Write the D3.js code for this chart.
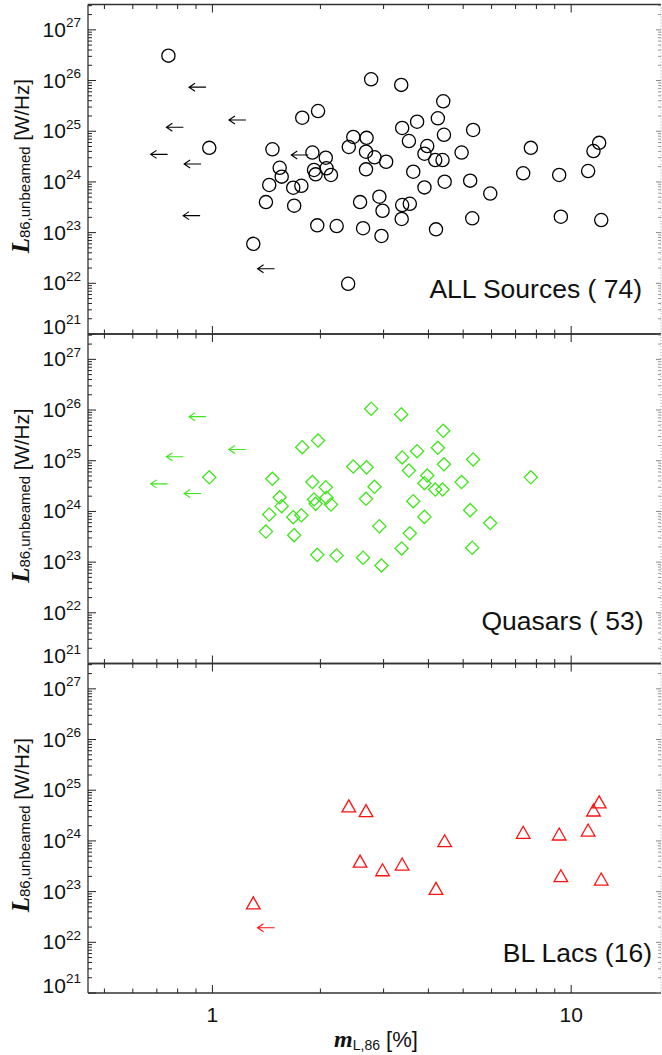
<!DOCTYPE html>
<html>
<head>
<meta charset="utf-8">
<script src="https://cdn.jsdelivr.net/npm/d3@7"></script>
<style>
	body { margin: 0; background: #fff; }
	svg { display: block; }
	text { font-family: "Liberation Sans", Arial, sans-serif; fill: #111; }
</style>
</head>
<body>
<div id="vis"></div>
<script>

// [m_L,86 in %, L_86,unbeamed in W/Hz]
var quasarDet = [
	[0.98, 4.7e24], [1.47, 4.4e24], [1.54, 1.9e24], [1.56, 1.27e24], [1.44, 8.7e23],
	[1.41, 4.0e23], [1.68, 7.7e23], [1.77, 8.4e23], [1.69, 3.4e23], [1.78, 1.85e25],
	[1.97, 2.5e25], [1.90, 3.8e24], [1.92, 1.72e24], [1.94, 1.41e24], [1.96, 1.39e23],
	[2.07, 3.0e24], [2.08, 1.86e24], [2.14, 1.37e24], [2.77, 1.06e26], [3.36, 8.2e25],
	[4.40, 3.9e25], [4.25, 1.8e25], [3.72, 1.54e25], [3.38, 1.16e25], [5.33, 1.06e25],
	[4.42, 8.5e24], [2.47, 7.7e24], [2.69, 7.4e24], [3.53, 6.4e24], [3.97, 5.1e24],
	[7.72, 4.7e24], [4.95, 3.8e24], [3.90, 3.6e24], [2.83, 3.06e24], [4.18, 2.7e24],
	[4.38, 2.7e24], [2.68, 1.77e24], [3.63, 1.59e24], [5.23, 1.06e24], [3.90, 7.8e23],
	[5.95, 5.9e23], [2.92, 5.1e23], [3.55, 3.7e23], [3.37, 1.86e23], [5.30, 1.92e23],
	[2.22, 1.35e23], [2.63, 1.22e23], [2.96, 8.6e22]
];
var quasarLim = [
	[0.96, 7.4e25], [0.83, 1.2e25], [1.24, 1.67e25], [0.75, 3.5e24], [0.93, 2.26e24]
];
var blLacDet = [
	[1.30, 6.0e22], [2.40, 4.9e24], [2.68, 3.95e24], [2.58, 4.0e23], [2.98, 2.7e23],
	[3.38, 3.5e23], [4.20, 1.16e23], [4.44, 1.01e24], [7.35, 1.48e24], [9.26, 1.37e24],
	[9.36, 2.06e23], [11.15, 1.64e24], [11.54, 4.07e24], [11.97, 5.9e24], [12.13, 1.77e23]
];
var blLacLim = [
	[1.49, 1.94e22]
];
var otherDet = [
	[0.754, 3.1e26], [2.39, 9.8e21], [3.05, 2.5e24]
];
var otherLim = [
	[1.85, 3.4e24], [0.924, 2.16e23]
];

var panelLabels = ["ALL Sources ( 74)", "Quasars ( 53)", "BL Lacs (16)"];
var yTickExps = [21, 22, 23, 24, 25, 26, 27];
var xMajorTicks = [1, 10];
var xTickLabels = ["1", "10"];

var width = 662, height = 1055;
var left = 88, right = 661;
var panelTops = [4.5, 334, 663.5];
var panelH = 329.5;

var svg = d3.select("#vis").append("svg")
	.attr("width", width)
	.attr("height", height);

var xScale = d3.scaleLog()
	.domain([0.45, 17.8])
	.range([left, right]);

var xMinor = [];
[0.1, 1].forEach(function(base) {
	for (var k = 2; k <= 9; k++) {
		var v = base * k;
		if (v > 0.45 && v < 17.8 && v != 1) xMinor.push(v);
	}
});
xMinor.push(20);
xMinor = xMinor.filter(function(v) { return v < 17.8; });

var yMinor = [];
yTickExps.forEach(function(e) {
	for (var k = 2; k <= 9; k++) {
		var v = k * Math.pow(10, e);
		if (v < Math.pow(10, 27.5)) yMinor.push(v);
	}
});

var triangle = {
	draw: function(ctx) {
		var w = 6.8, h = 6;
		ctx.moveTo(0, -h);
		ctx.lineTo(w, h);
		ctx.lineTo(-w, h);
		ctx.closePath();
	}
};
var diamond = {
	draw: function(ctx) {
		var r = 6.6;
		ctx.moveTo(0, -r);
		ctx.lineTo(r, 0);
		ctx.lineTo(0, r);
		ctx.lineTo(-r, 0);
		ctx.closePath();
	}
};

var panels = [
	{ det: quasarDet.concat(blLacDet, otherDet), lim: quasarLim.concat(blLacLim, otherLim),
		color: "#000", symbol: d3.symbol().type(d3.symbolCircle).size(Math.PI * 6.6 * 6.6),
		label: panelLabels[0], labelX: 642, labelY: 297.5 },
	{ det: quasarDet, lim: quasarLim,
		color: "#3ee61a", symbol: d3.symbol().type(diamond),
		label: panelLabels[1], labelX: 643.5, labelY: 629.5 },
	{ det: blLacDet, lim: blLacLim,
		color: "#ff1010", symbol: d3.symbol().type(triangle),
		label: panelLabels[2], labelX: 652, labelY: 962 }
];

panels.forEach(function(p, i) {

	var top = panelTops[i], bottom = top + panelH;

	var yScale = d3.scaleLog()
		.domain([1e21, Math.pow(10, 27.5)])
		.range([bottom, top]);

	var g = svg.append("g").attr("class", "panel");

	// frame
	g.append("line").attr("x1", left).attr("x2", right).attr("y1", top).attr("y2", top)
		.attr("stroke", "#333").attr("stroke-width", 1.3);
	g.append("line").attr("x1", left).attr("x2", right).attr("y1", bottom).attr("y2", bottom)
		.attr("stroke", "#333").attr("stroke-width", 1.3);
	g.append("line").attr("x1", left).attr("x2", left).attr("y1", top).attr("y2", bottom)
		.attr("stroke", "#333").attr("stroke-width", 1.3);
	g.append("line").attr("x1", right).attr("x2", right).attr("y1", top).attr("y2", bottom)
		.attr("stroke", "#aaa").attr("stroke-width", 1).attr("stroke-dasharray", "1,2");

	// x ticks, top and bottom, pointing in
	var xt = xMajorTicks.map(function(v) { return { v: v, len: 8 }; })
		.concat(xMinor.map(function(v) { return { v: v, len: 4.5 }; }));
	xt.forEach(function(t) {
		var x = xScale(t.v);
		g.append("line").attr("x1", x).attr("x2", x).attr("y1", bottom).attr("y2", bottom - t.len)
			.attr("stroke", "#222").attr("stroke-width", 1);
		g.append("line").attr("x1", x).attr("x2", x).attr("y1", top).attr("y2", top + t.len)
			.attr("stroke", "#222").attr("stroke-width", 1);
	});

	// y ticks
	yTickExps.forEach(function(e) {
		var y = yScale(Math.pow(10, e));
		g.append("line").attr("x1", left).attr("x2", left + 8).attr("y1", y).attr("y2", y)
			.attr("stroke", "#222").attr("stroke-width", 1);
		g.append("line").attr("x1", right).attr("x2", right - 5).attr("y1", y).attr("y2", y)
			.attr("stroke", "#888").attr("stroke-width", 1);

		var lab = g.append("text")
			.attr("x", 81)
			.attr("y", e == 21 ? y - 0.5 : y + 7)
			.attr("text-anchor", "end")
			.style("font-size", "21px");
		lab.append("tspan").text("10");
		lab.append("tspan").attr("dy", -9.5).style("font-size", "13.5px").text(e);
	});
	yMinor.forEach(function(v) {
		var y = yScale(v);
		g.append("line").attr("x1", left).attr("x2", left + 4).attr("y1", y).attr("y2", y)
			.attr("stroke", "#222").attr("stroke-width", 1);
		g.append("line").attr("x1", right).attr("x2", right - 3).attr("y1", y).attr("y2", y)
			.attr("stroke", "#999").attr("stroke-width", 1);
	});

	// y title
	var yt = g.append("text")
		.attr("transform", "translate(28.5," + (top + panelH / 2 - 3) + ") rotate(-90)")
		.attr("text-anchor", "middle");
	yt.append("tspan")
		.style("font-family", "'Liberation Serif', 'Times New Roman', serif")
		.style("font-weight", "bold").style("font-style", "italic")
		.style("font-size", "25px").text("L");
	yt.append("tspan").attr("dy", 1.5).style("font-size", "15px").text("86,unbeamed");
	yt.append("tspan").attr("dy", -1.5).style("font-size", "20.5px").text(" [W/Hz]");

	// points
	g.selectAll(".pt")
		.data(p.det)
		.enter()
		.append("path")
		.attr("class", "pt")
		.attr("d", p.symbol)
		.attr("transform", function(d) { return "translate(" + xScale(d[0]) + "," + yScale(d[1]) + ")"; })
		.style("fill", "none")
		.style("stroke", p.color)
		.style("stroke-width", 1.3);

	// upper limits, arrows pointing left
	g.selectAll(".lim")
		.data(p.lim)
		.enter()
		.append("path")
		.attr("class", "lim")
		.attr("d", function(d) {
			var x = xScale(d[0]), y = yScale(d[1]), tip = x - 17;
			return "M" + x + "," + y + "L" + tip + "," + y +
				"M" + (tip + 6) + "," + (y - 4) + "L" + tip + "," + y + "L" + (tip + 6) + "," + (y + 4);
		})
		.style("fill", "none")
		.style("stroke", p.color)
		.style("stroke-width", 1.1);

	g.append("text")
		.attr("x", p.labelX)
		.attr("y", p.labelY)
		.attr("text-anchor", "end")
		.style("font-size", "26.5px")
		.text(p.label);

	// x labels on the last panel only
	if (i == panels.length - 1) {
		xMajorTicks.forEach(function(v, j) {
			g.append("text")
				.attr("x", xScale(v))
				.attr("y", 1021.5)
				.attr("text-anchor", "middle")
				.style("font-size", "21px")
				.text(xTickLabels[j]);
		});

		var xtitle = g.append("text")
			.attr("x", (left + right) / 2 + 1.5)
			.attr("y", 1047)
			.attr("text-anchor", "middle");
		xtitle.append("tspan")
			.style("font-family", "'Liberation Serif', 'Times New Roman', serif")
			.style("font-weight", "bold").style("font-style", "italic")
			.style("font-size", "24px").text("m");
		xtitle.append("tspan").attr("dy", 3).style("font-size", "14px").text("L,86");
		xtitle.append("tspan").attr("dy", -3).style("font-size", "22px").text(" [%]");
	}
});

</script>
</body>
</html>
